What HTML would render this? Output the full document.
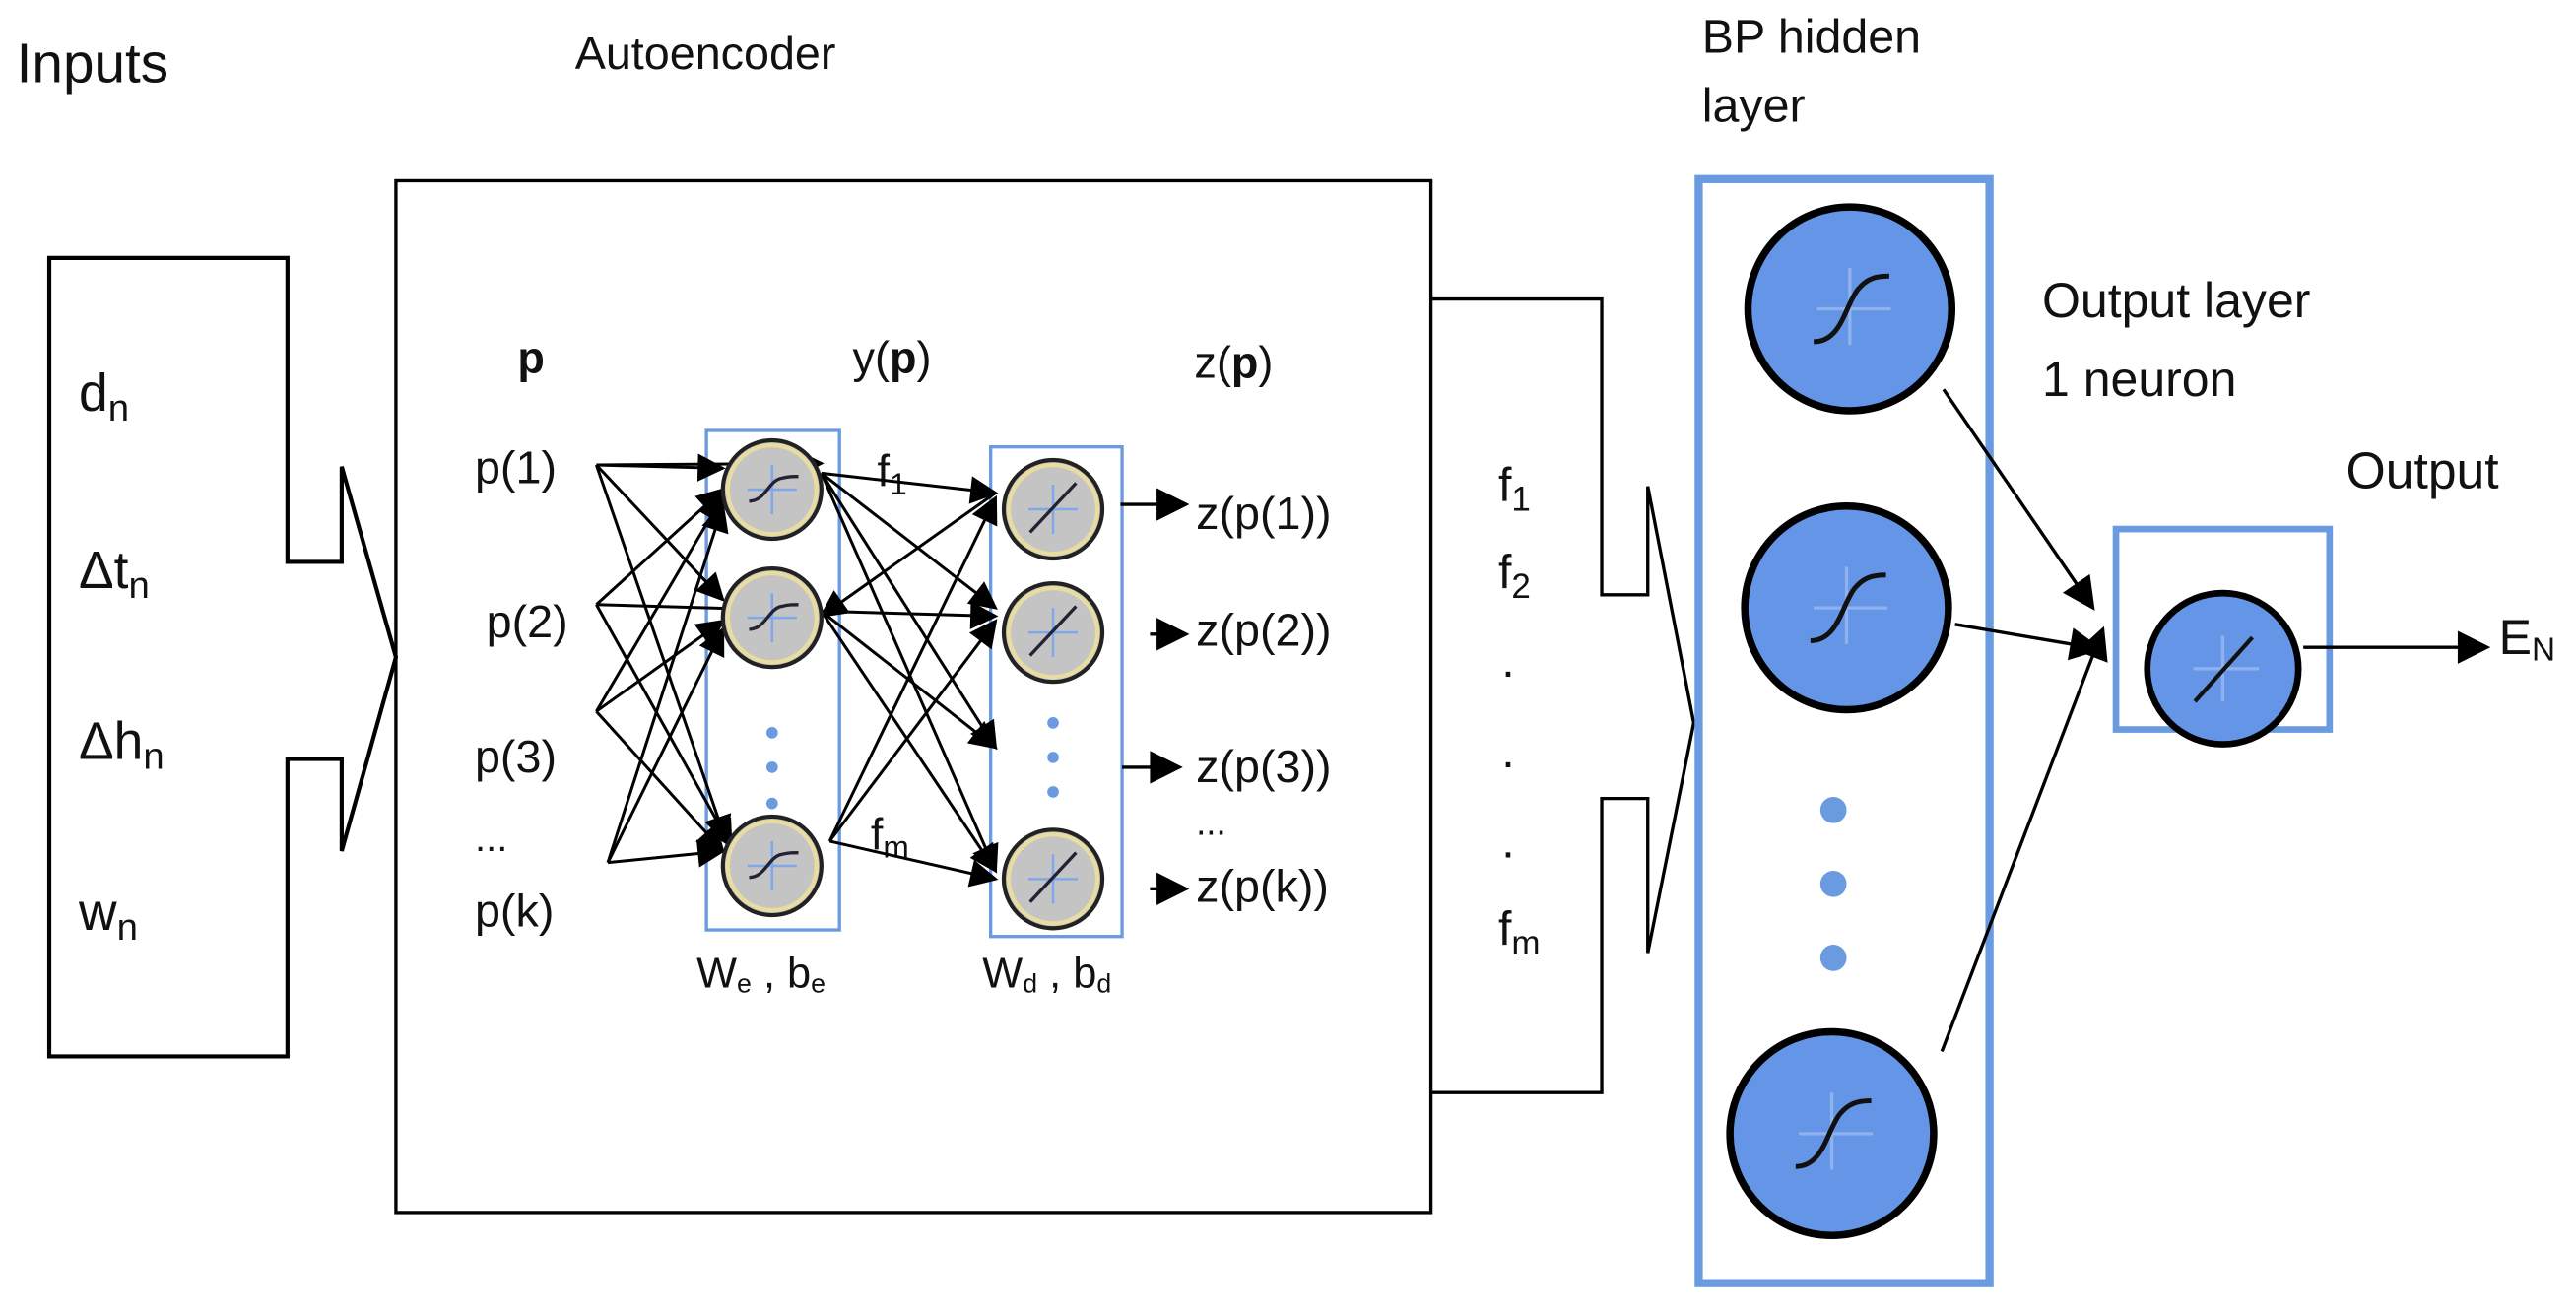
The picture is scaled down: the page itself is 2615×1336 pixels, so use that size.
<!DOCTYPE html>
<html><head><meta charset="utf-8"><style>
html,body{margin:0;padding:0;background:#fff;}
svg{display:block;}
text{font-family:"Liberation Sans","DejaVu Sans",sans-serif;fill:#111;}
</style></head><body>
<svg width="2615" height="1336" viewBox="0 0 1568 801" preserveAspectRatio="none" xmlns="http://www.w3.org/2000/svg">
<defs>
<marker id="b" viewBox="0 0 10 10" refX="9" refY="5" markerWidth="24" markerHeight="20" orient="auto" markerUnits="userSpaceOnUse">
<path d="M0,0 L10,5 L0,10 z" fill="#000"/></marker>
<marker id="s" viewBox="0 0 10 10" refX="9" refY="5" markerWidth="20" markerHeight="17" orient="auto" markerUnits="userSpaceOnUse">
<path d="M0,0 L10,5 L0,10 z" fill="#000"/></marker>
<g id="gc"><circle r="30" fill="#c4c4c4" stroke="#222" stroke-width="2.5"/><circle r="27" fill="none" stroke="#e8dca0" stroke-width="2.5"/><path d="M-15,0 H15 M0,-15 V15" stroke="#7fa8ea" stroke-width="1.5"/></g>
<g id="bc"><circle r="62" fill="#6495e6" stroke="#000" stroke-width="4.5"/><path d="M-20,0 H25 M0,-25 V22" stroke="#8fb2ee" stroke-width="2"/><path d="M-22,20 C-5,20 -3,-2 5,-12 C10,-18 15,-20 24,-20" stroke="#111" stroke-width="3" fill="none"/></g>
</defs>

<text x="10" y="50" font-size="34">Inputs</text>
<text x="350" y="42" font-size="28">Autoencoder</text>
<text x="1036" y="32" font-size="29">BP hidden</text>
<text x="1036" y="74" font-size="29">layer</text>
<text x="1243" y="193" font-size="30">Output layer</text>
<text x="1243" y="241" font-size="30">1 neuron</text>
<text x="1428" y="297" font-size="31">Output</text>

<path d="M30,157 H175 V342 H208 V284 L241,400 L208,518 V462 H175 V643 H30 Z" fill="none" stroke="#000" stroke-width="2.5"/>
<text x="48" y="250" font-size="32">d<tspan font-size="23" dy="6">n</tspan></text>
<text x="48" y="358" font-size="32">Δt<tspan font-size="23" dy="6">n</tspan></text>
<text x="48" y="462" font-size="32">Δh<tspan font-size="23" dy="6">n</tspan></text>
<text x="48" y="566" font-size="32">w<tspan font-size="23" dy="6">n</tspan></text>

<rect x="241" y="110" width="630" height="628" fill="none" stroke="#000" stroke-width="2"/>

<path d="M871,182 H975 V362 H1003 V296 L1031,440 L1003,580 V486 H975 V665 H871" fill="none" stroke="#000" stroke-width="2"/>
<text x="912" y="305" font-size="29">f<tspan font-size="21" dy="6">1</tspan></text>
<text x="912" y="358" font-size="29">f<tspan font-size="21" dy="6">2</tspan></text>
<text x="914" y="412" font-size="29">.</text>
<text x="914" y="467" font-size="29">.</text>
<text x="914" y="522" font-size="29">.</text>
<text x="912" y="575" font-size="29">f<tspan font-size="21" dy="6">m</tspan></text>

<text x="315" y="227" font-size="27" font-weight="bold">p</text>
<text x="519" y="227" font-size="27">y(<tspan font-weight="bold">p</tspan>)</text>
<text x="727" y="230" font-size="27">z(<tspan font-weight="bold">p</tspan>)</text>
<text x="289" y="294" font-size="28">p(1)</text>
<text x="296" y="388" font-size="28">p(2)</text>
<text x="289" y="470" font-size="28">p(3)</text>
<text x="289" y="518" font-size="24">...</text>
<text x="289" y="564" font-size="28">p(k)</text>
<text x="534" y="296" font-size="27">f<tspan font-size="19" dy="5">1</tspan></text>
<text x="530" y="517" font-size="27">f<tspan font-size="19" dy="5">m</tspan></text>
<text x="728" y="322" font-size="28">z(p(1))</text>
<text x="728" y="393" font-size="28">z(p(2))</text>
<text x="728" y="476" font-size="28">z(p(3))</text>
<text x="728" y="508" font-size="22">...</text>
<text x="728" y="549" font-size="28">z(p(k))</text>
<text x="424" y="601" font-size="26" fill="#222">W<tspan font-size="16" dy="3">e</tspan><tspan dy="-3"> , b</tspan><tspan font-size="16" dy="3">e</tspan></text>
<text x="598" y="601" font-size="26" fill="#222">W<tspan font-size="16" dy="3">d</tspan><tspan dy="-3"> , b</tspan><tspan font-size="16" dy="3">d</tspan></text>

<rect x="430" y="262" width="81" height="304" fill="none" stroke="#6a9ae0" stroke-width="2"/>
<rect x="603" y="272" width="80" height="298" fill="none" stroke="#6a9ae0" stroke-width="2"/>

<g stroke="#000" stroke-width="1.8" fill="none" marker-end="url(#s)">
<line x1="363" y1="283" x2="440" y2="285"/>
<line x1="363" y1="283" x2="440" y2="365"/>
<line x1="363" y1="283" x2="442" y2="512"/>
<line x1="363" y1="368" x2="440" y2="298"/>
<line x1="363" y1="368" x2="445" y2="515"/>
<line x1="363" y1="433" x2="440" y2="302"/>
<line x1="363" y1="433" x2="440" y2="378"/>
<line x1="363" y1="433" x2="440" y2="518"/>
<line x1="370" y1="525" x2="440" y2="308"/>
<line x1="370" y1="525" x2="440" y2="383"/>
<line x1="370" y1="525" x2="440" y2="518"/>
<line x1="363" y1="368" x2="606" y2="375"/>
<line x1="363" y1="283" x2="500" y2="282"/>
</g>
<g stroke="#000" stroke-width="1.8" fill="none" marker-end="url(#s)">
<line x1="500" y1="288" x2="606" y2="300"/>
<line x1="500" y1="288" x2="606" y2="370"/>
<line x1="500" y1="288" x2="606" y2="455"/>
<line x1="500" y1="288" x2="606" y2="530"/>
<line x1="500" y1="372" x2="606" y2="455"/>
<line x1="500" y1="372" x2="606" y2="530"/>
<line x1="606" y1="300" x2="500" y2="375"/>
<line x1="505" y1="512" x2="606" y2="303"/>
<line x1="505" y1="512" x2="606" y2="378"/>
<line x1="505" y1="512" x2="606" y2="535"/>
</g>
<g stroke="#000" stroke-width="2" marker-end="url(#b)">
<line x1="682" y1="307" x2="722" y2="307"/>
<line x1="700" y1="386" x2="722" y2="386"/>
<line x1="683" y1="467" x2="718" y2="467"/>
<line x1="700" y1="541" x2="722" y2="541"/>
</g>

<g transform="translate(470,298)"><use href="#gc"/><path d="M-14,7 C-4,7 -2,-6 6,-7 C10,-8 12,-8 16,-8" stroke="#223" stroke-width="2" fill="none"/></g>
<g transform="translate(470,376)"><use href="#gc"/><path d="M-14,7 C-4,7 -2,-6 6,-7 C10,-8 12,-8 16,-8" stroke="#223" stroke-width="2" fill="none"/></g>
<g transform="translate(470,527)"><use href="#gc"/><path d="M-14,7 C-4,7 -2,-6 6,-7 C10,-8 12,-8 16,-8" stroke="#223" stroke-width="2" fill="none"/></g>
<g fill="#6a9ae0"><circle cx="470" cy="446" r="3.5"/><circle cx="470" cy="467" r="3.5"/><circle cx="470" cy="489" r="3.5"/></g>
<g transform="translate(641,310)"><use href="#gc"/><path d="M-14,14 L14,-16" stroke="#223" stroke-width="2"/></g>
<g transform="translate(641,385)"><use href="#gc"/><path d="M-14,14 L14,-16" stroke="#223" stroke-width="2"/></g>
<g transform="translate(641,535)"><use href="#gc"/><path d="M-14,14 L14,-16" stroke="#223" stroke-width="2"/></g>
<g fill="#6a9ae0"><circle cx="641" cy="440" r="3.5"/><circle cx="641" cy="461" r="3.5"/><circle cx="641" cy="482" r="3.5"/></g>

<rect x="1034" y="109" width="177" height="672" fill="none" stroke="#6a9ae0" stroke-width="5"/>
<use href="#bc" x="1126" y="188"/>
<use href="#bc" x="1124" y="370"/>
<use href="#bc" x="1115" y="690"/>
<g fill="#6a9ae0"><circle cx="1116" cy="493" r="8"/><circle cx="1116" cy="538" r="8"/><circle cx="1116" cy="583" r="8"/></g>

<rect x="1288" y="322" width="130" height="122" fill="none" stroke="#6a9ae0" stroke-width="4"/>
<circle cx="1353" cy="407" r="46" fill="#6495e6" stroke="#000" stroke-width="4"/>
<path d="M1335,407 H1375 M1353,387 V427" stroke="#8fb2ee" stroke-width="2"/>
<path d="M1336,427 L1371,388" stroke="#111" stroke-width="2.5"/>

<g stroke="#000" stroke-width="2" marker-end="url(#b)">
<line x1="1183" y1="237" x2="1274" y2="370"/>
<line x1="1190" y1="380" x2="1278" y2="395"/>
<line x1="1182" y1="640" x2="1280" y2="383"/>
<line x1="1402" y1="394" x2="1514" y2="394"/>
</g>
<text x="1521" y="398" font-size="30">E<tspan font-size="20" dy="4">N</tspan></text>
</svg>
</body></html>
